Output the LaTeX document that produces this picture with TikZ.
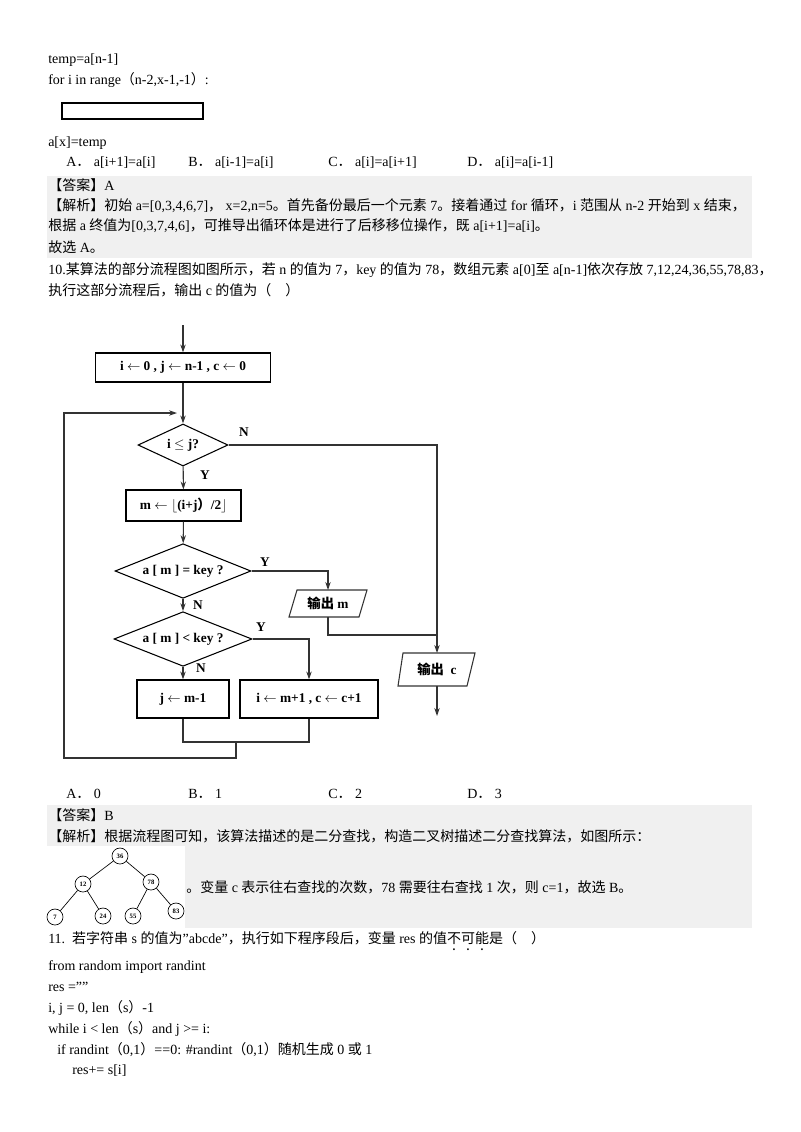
\documentclass[tikz,border=0pt]{standalone}
\usepackage{fontspec}
\setmainfont{Liberation Serif}
\newfontfamily\cjk{Noto Sans CJK SC}
\newcommand\zh[1]{{\cjk #1}}
\newcommand\ud[1]{\ooalign{#1\cr\hidewidth\raisebox{-0.55em}{.}\hidewidth\cr}}
\newcommand\dq{\symbol{34}}
\usetikzlibrary{shapes.geometric,arrows.meta}
\begin{document}
\begin{tikzpicture}[x=0.75pt,y=-0.75pt,
  txt/.style={anchor=west,inner sep=0pt,font=\fontsize{10.5}{12}\selectfont},
  box/.style={draw,line width=0.8pt,font=\bfseries\fontsize{10}{12}\selectfont,inner sep=2pt},
  dia/.style={draw,diamond,aspect=2.1,line width=0.8pt,inner sep=1pt,font=\bfseries\fontsize{10}{12}\selectfont},
  lab/.style={font=\bfseries\fontsize{10}{12}\selectfont,inner sep=0pt},
  ln/.style={line width=0.8pt,draw=black!80},
  arr/.style={ln,-{Stealth[length=6pt,width=4pt]}},
  tn/.style={draw,circle,line width=0.5pt,minimum size=12pt,inner sep=0pt,font=\bfseries\fontsize{5}{6}\selectfont}]
\useasboundingbox (0,0) rectangle (800,1132);
\fill[white] (0,0) rectangle (800,1132);
% gray bands
\fill[gray!12] (47,176) rectangle (752,258);
\fill[gray!12] (47,805) rectangle (752,928);
\fill[white] (47,846) rectangle (185,928);
% top text
\node[txt] (t1) at (48,60) {temp=a[n-1]};
\node[txt] (t2) at (48,80) {for i in range\zh{（}n-2,x-1,-1\zh{）}:};
\draw[line width=1pt] (62,103) rectangle (203,119);
\node[txt] (t3) at (48,143) {a[x]=temp};
\node[txt] at (66,163) {A\zh{．} a[i+1]=a[i]};
\node[txt] at (188,163) {B\zh{．} a[i-1]=a[i]};
\node[txt] at (328,163) {C\zh{．} a[i]=a[i+1]};
\node[txt] at (467,163) {D\zh{．} a[i]=a[i-1]};
\node[txt] at (48,185) {\zh{【答案】}A};
\node[txt] at (48,206) {\zh{【解析】初始} a=[0,3,4,6,7]\zh{，} x=2,n=5\zh{。首先备份最后一个元素} 7\zh{。接着通过} for \zh{循环，}i \zh{范围从} n-2 \zh{开始到} x \zh{结束，}};
\node[txt] at (48,226) {\zh{根据} a \zh{终值为}[0,3,7,4,6]\zh{，可推导出循环体是进行了后移移位操作，既} a[i+1]=a[i]\zh{。}};
\node[txt] at (48,247) {\zh{故选} A\zh{。}};
\node[txt] at (48,270) {10.\zh{某算法的部分流程图如图所示，若} n \zh{的值为} 7\zh{，}key \zh{的值为} 78\zh{，数组元素} a[0]\zh{至} a[n-1]\zh{依次存放} 7,12,24,36,55,78,83\zh{，}};
\node[txt] at (48,290) {\zh{执行这部分流程后，输出} c \zh{的值为（\quad）}};
% flowchart
\coordinate (start) at (183,325);
\node[box,minimum width=175*0.75pt,minimum height=29*0.75pt] (b1) at (183,367.5) {i $\leftarrow$ 0 , j $\leftarrow$ n-1 , c $\leftarrow$ 0};
\node[dia,minimum width=90*0.75pt,minimum height=42*0.75pt] (d1) at (183,445) {i $\le$ j?};
\node[box,minimum width=115*0.75pt,minimum height=31*0.75pt] (bm) at (183.5,505.5) {m $\leftarrow\lfloor$(i+j\zh{）}/2$\rfloor$};
\node[dia,minimum width=136*0.75pt,minimum height=52*0.75pt] (d2) at (183,571) {a [ m ] = key ?};
\node[dia,minimum width=138*0.75pt,minimum height=44*0.75pt] (d3) at (183,639) {a [ m ] < key ?};
\node[box,minimum width=92*0.75pt,minimum height=38*0.75pt] (bj) at (183,699) {j $\leftarrow$ m-1};
\node[box,minimum width=138*0.75pt,minimum height=38*0.75pt] (bi) at (309,699) {i $\leftarrow$ m+1 , c $\leftarrow$ c+1};
\node[lab] (om) at (328,603.5) {\zh{输出} m};
\draw[ln] (297,590) -- (367,590) -- (359,617) -- (289,617) -- cycle;
\node[lab] (oc) at (437,669.5) {\zh{输出}\ \ c};
\draw[ln] (403,653) -- (475,653) -- (467,686) -- (398,686) -- cycle;
\coordinate (omt) at (328,590); \coordinate (omb) at (328,617);
\coordinate (oct) at (437,653); \coordinate (ocb) at (437,686);
\coordinate (endc) at (437,716);
\coordinate (loopin) at (177,413);
\draw[arr] (start) -- (b1);
\draw[arr] (b1) -- (d1);
\draw[arr] (d1) -- (bm);
\draw[arr] (bm) -- (d2);
\draw[arr] (d2) -- (d3);
\draw[arr] (d3) -- (bj);
\draw[arr] (d1.east) -| (oct);
\draw[arr] (d2.east) -| (omt);
\draw[ln] (omb) |- (437,635);
\draw[arr] (d3.east) -| (bi.north);
\draw[arr] (ocb) -- (endc);
\draw[ln] (bj.south) |- (236,742) -| (bi.south);
\draw[arr] (236,742) -- (236,758) -| (64,413) -- (loopin);
\node[lab] at (244,432) {N};
\node[lab] at (205,475) {Y};
\node[lab] at (265,562) {Y};
\node[lab] at (198,605) {N};
\node[lab] at (261,627) {Y};
\node[lab] at (201,668) {N};
% options
\node[txt] at (66,794) {A\zh{．} 0};
\node[txt] at (188,794) {B\zh{．} 1};
\node[txt] at (328,794) {C\zh{．} 2};
\node[txt] at (467,794) {D\zh{．} 3};
\node[txt] at (48,815) {\zh{【答案】}B};
\node[txt] at (48,836) {\zh{【解析】根据流程图可知，该算法描述的是二分查找，构造二叉树描述二分查找算法，如图所示：}};
% tree
\node[tn] (n36) at (120,856) {36};
\node[tn] (n12) at (83,884) {12};
\node[tn] (n78) at (151,882) {78};
\node[tn] (n7) at (55,917) {7};
\node[tn] (n24) at (103,916) {24};
\node[tn] (n55) at (133,916) {55};
\node[tn] (n83) at (176,911) {83};
\draw[line width=0.5pt] (n36)--(n12) (n36)--(n78) (n12)--(n7) (n12)--(n24) (n78)--(n55) (n78)--(n83);
\node[txt] at (186,887) {\zh{。变量} c \zh{表示往右查找的次数，}78 \zh{需要往右查找} 1 \zh{次，则} c=1\zh{，故选} B\zh{。}};
\node[txt] (q11) at (48,941) {11.\ \ \zh{若字符串} s \zh{的值为}\dq abcde\dq\zh{，执行如下程序段后，变量} res \zh{的值\ud{不}\ud{可}\ud{能}是（\quad）}};
\node[txt] at (48,967) {from random import randint};
\node[txt] at (48,987) {res =\dq\dq};
\node[txt] at (48,1008) {i, j = 0, len\zh{（}s\zh{）}-1};
\node[txt] at (48,1029) {while i < len\zh{（}s\zh{）}and j >= i:};
\node[txt] at (57,1050) {if randint\zh{（}0,1\zh{）}==0: \#randint\zh{（}0,1\zh{）随机生成} 0 \zh{或} 1};
\node[txt] at (72,1071) {res+= s[i]};
\end{tikzpicture}
\end{document}
